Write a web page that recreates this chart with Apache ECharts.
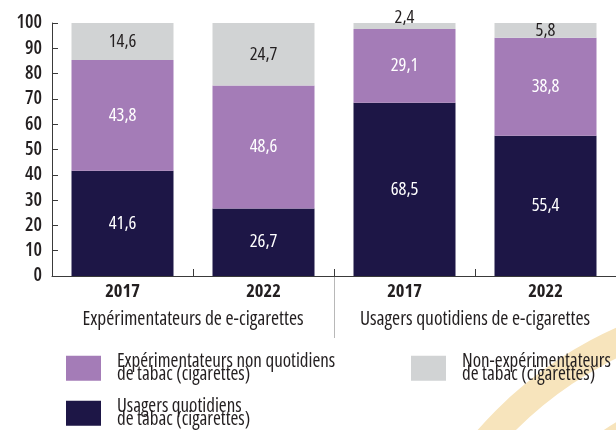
<!DOCTYPE html>
<html>
<head>
<meta charset="utf-8">
<script src="https://cdn.jsdelivr.net/npm/echarts@6/dist/echarts.min.js"></script>
<style>
  html, body { margin: 0; padding: 0; background: #ffffff; }
  #chart { width: 616px; height: 430px; }
</style>
</head>
<body>
<div id="chart"></div>
<script>
// ---- Data ----
const categories = ['2017', '2022', '2017', '2022'];
const groups = ['Expérimentateurs de e-cigarettes', 'Usagers quotidiens de e-cigarettes'];
const dailyTobacco = [41.6, 26.7, 68.5, 55.4];      // Usagers quotidiens de tabac
const nonDailyTobacco = [43.8, 48.6, 29.1, 38.8];   // Expérimentateurs non quotidiens de tabac
const nonTobacco = [14.6, 24.7, 2.4, 5.8];          // Non-expérimentateurs de tabac
const seriesNames = [
  'Usagers quotidiens\nde tabac (cigarettes)',
  'Expérimentateurs non quotidiens\nde tabac (cigarettes)',
  'Non-expérimentateurs\nde tabac (cigarettes)'
];
const yMin = 0, yMax = 100, yInterval = 10;

// ---- Style ----
const FONT = "'Open Sans','Roboto Condensed',sans-serif";
const STRETCH = 'condensed';   // injected into the canvas font shorthand (font-stretch)
const TXT = '#231f20';
const COLORS = ['#1d1646', '#a47cb7', '#d1d3d4'];
const RING = '#f7e4bc';
const fmt = v => v.toFixed(1).replace('.', ',');

function makeSeries(name, values, color, labelColor) {
  return {
    name: name,
    type: 'bar',
    stack: 'total',
    barWidth: 102,
    itemStyle: { color: color },
    label: {
      show: true,
      position: 'inside',
      color: labelColor,
      fontFamily: FONT,
      fontStyle: STRETCH,
      fontSize: 18.5,
      formatter: p => fmt(p.value)
    },
    data: values.map(v => (v < 4 ? { value: v, label: { offset: [0, -8] } } : v))
  };
}

function legendFor(name, left, top) {
  return {
    data: [name], left: left, top: top, padding: 0, orient: 'horizontal',
    itemWidth: 35, itemHeight: 25, icon: 'rect', selectedMode: false,
    textStyle: { color: TXT, fontFamily: FONT, fontStyle: STRETCH, fontSize: 19, lineHeight: 13.5, padding: [0, 0, 0, 11] }
  };
}

const chart = echarts.init(document.getElementById('chart'), null, { renderer: 'canvas' });

const baseGraphics = [
  { type: 'ring', z: -10, silent: true, shape: { cx: 779, cy: 693, r: 400, r0: 372 }, style: { fill: RING } },
  { type: 'ring', z: -10, silent: true, shape: { cx: 779, cy: 693, r: 316, r0: 288 }, style: { fill: RING } }
];

const option = {
  backgroundColor: '#ffffff',
  animation: false,
  textStyle: { fontFamily: FONT },
  grid: { left: 52, right: 0, top: 23, bottom: 154, containLabel: false },
  xAxis: [
    {
      type: 'category',
      data: categories,
      axisLine: { show: true, lineStyle: { color: '#3a3a3a', width: 1 } },
      axisTick: { show: true, inside: true, length: 7, interval: 0, lineStyle: { color: '#3a3a3a' } },
      axisLabel: { color: TXT, fontFamily: FONT, fontStyle: STRETCH, fontSize: 18.5, fontWeight: 'bold', margin: 6, interval: 0 }
    },
    {
      type: 'category',
      data: groups,
      position: 'bottom',
      axisLine: { show: false },
      axisTick: { show: false },
      axisLabel: { color: TXT, fontFamily: FONT, fontStyle: STRETCH, fontSize: 19.5, margin: 33, interval: 0 }
    }
  ],
  yAxis: {
    type: 'value',
    min: yMin, max: yMax, interval: yInterval,
    axisLine: { show: true, lineStyle: { color: '#3a3a3a', width: 1 } },
    axisTick: { show: true, inside: true, length: 6, lineStyle: { color: '#3a3a3a' } },
    splitLine: { show: false },
    axisLabel: { color: TXT, fontFamily: FONT, fontStyle: STRETCH, fontSize: 19, fontWeight: 600, margin: 10 }
  },
  legend: [
    legendFor(seriesNames[1], 66, 352),
    legendFor(seriesNames[2], 411, 352),
    legendFor(seriesNames[0], 66, 397)
  ],
  graphic: baseGraphics,
  series: [
    makeSeries(seriesNames[0], dailyTobacco, COLORS[0], '#ffffff'),
    makeSeries(seriesNames[1], nonDailyTobacco, COLORS[1], '#ffffff'),
    makeSeries(seriesNames[2], nonTobacco, COLORS[2], TXT)
  ]
};
chart.setOption(option);

// Group separator line between the two groups, positioned through the axis scale
const xa = chart.convertToPixel({ xAxisIndex: 0 }, 1);
const xb = chart.convertToPixel({ xAxisIndex: 0 }, 2);
const y0 = chart.convertToPixel({ yAxisIndex: 0 }, 0);
const sepX = Math.round((xa + xb) / 2) + 0.5;
chart.setOption({
  graphic: baseGraphics.concat([
    { type: 'line', silent: true, shape: { x1: sepX, y1: y0, x2: sepX, y2: y0 + 62 }, style: { stroke: '#b8b8b8', lineWidth: 1 } }
  ])
});
</script>
</body>
</html>
